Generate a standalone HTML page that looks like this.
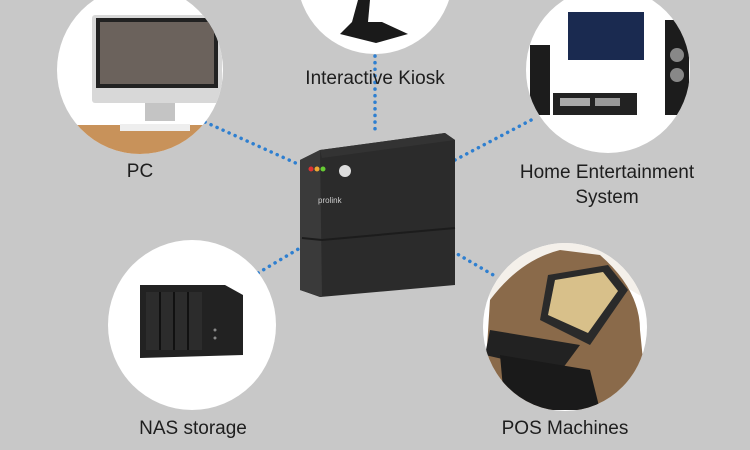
<!DOCTYPE html>
<html><head><meta charset="utf-8"><style>
html,body{margin:0;padding:0;width:750px;height:450px;overflow:hidden;background:#c8c8c8}
svg{display:block}
text{font-family:"Liberation Sans",sans-serif;fill:#1e1e1e;font-size:19px}
</style></head><body>
<svg width="750" height="450" viewBox="0 0 750 450">
<defs>
<clipPath id="c1"><ellipse cx="140" cy="70" rx="83" ry="84"/></clipPath>
<clipPath id="c2"><ellipse cx="375" cy="-25" rx="78" ry="79"/></clipPath>
<clipPath id="c3"><ellipse cx="608" cy="70" rx="82" ry="83"/></clipPath>
<clipPath id="c4"><ellipse cx="192" cy="325" rx="84" ry="85"/></clipPath>
<clipPath id="c5"><ellipse cx="565" cy="327" rx="82" ry="84"/></clipPath>
</defs>
<rect width="750" height="450" fill="#c8c8c8"/>
<g stroke="#2e7fd0" stroke-width="3.5" stroke-dasharray="0.1 6.5" stroke-linecap="round" fill="none">
<line x1="205" y1="122" x2="300" y2="165"/>
<line x1="375" y1="56" x2="375" y2="135"/>
<line x1="455" y1="160" x2="535" y2="118"/>
<line x1="258" y1="273" x2="300" y2="248"/>
<line x1="447" y1="248" x2="495" y2="276"/>
</g>
<g fill="#fff">
<ellipse cx="140" cy="70" rx="83" ry="84"/>
<ellipse cx="375" cy="-25" rx="78" ry="79"/>
<ellipse cx="608" cy="70" rx="82" ry="83"/>
<ellipse cx="192" cy="325" rx="84" ry="85"/>
<ellipse cx="565" cy="327" rx="82" ry="84"/>
</g>
<g clip-path="url(#c1)">
<rect x="92" y="15" width="130" height="88" rx="3" fill="#d8d8d8"/>
<rect x="96" y="18" width="122" height="70" fill="#222"/>
<rect x="100" y="22" width="114" height="62" fill="#6b625c"/>
<rect x="145" y="103" width="30" height="18" fill="#c4c4c4"/>
<path d="M55 125 L225 125 L225 160 L55 160Z" fill="#c8925a"/>
<rect x="120" y="124" width="70" height="7" fill="#eee"/>
</g>
<g clip-path="url(#c2)">
<path d="M358 0 L370 0 L368 22 L382 22 L408 34 L376 43 L340 34 L352 22Z" fill="#1a1a1a"/>
</g>
<g clip-path="url(#c3)">
<rect x="568" y="12" width="76" height="48" fill="#1a2a50"/>
<rect x="530" y="45" width="20" height="70" fill="#1c1c1c"/>
<rect x="665" y="20" width="24" height="95" fill="#1c1c1c"/>
<circle cx="677" cy="55" r="7" fill="#888"/><circle cx="677" cy="75" r="7" fill="#888"/>
<rect x="553" y="93" width="84" height="22" fill="#222"/>
<rect x="560" y="98" width="30" height="8" fill="#aaa"/><rect x="595" y="98" width="25" height="8" fill="#999"/>
</g>
<g clip-path="url(#c4)">
<path d="M140 285 L225 285 L243 295 L243 355 L140 358Z" fill="#222"/>
<rect x="146" y="292" width="56" height="58" fill="#2c2c2c"/>
<g stroke="#111" stroke-width="2"><line x1="160" y1="292" x2="160" y2="350"/><line x1="174" y1="292" x2="174" y2="350"/><line x1="188" y1="292" x2="188" y2="350"/></g>
<circle cx="215" cy="330" r="1.5" fill="#888"/><circle cx="215" cy="338" r="1.5" fill="#888"/>
</g>
<g clip-path="url(#c5)">
<path d="M483 243 L648 243 L648 300 L560 250 Q520 265 490 300Z" fill="#f4f0ea"/>
<path d="M490 300 Q520 260 560 250 L600 255 Q640 290 640 330 L648 410 L483 410Z" fill="#8a6a4a"/>
<path d="M548 275 L608 265 L628 290 L590 345 L540 320Z" fill="#2a2a2a"/>
<path d="M555 280 L603 272 L618 291 L588 333 L548 315Z" fill="#d8c08a"/>
<path d="M490 330 L580 345 L560 372 L485 355Z" fill="#222"/>
<path d="M500 355 L590 370 L600 410 L505 410Z" fill="#1a1a1a"/>
</g>
<path d="M300 160 L320 150 L445 133 L455 140 L455 285 L320 297 L300 290Z" fill="#2b2b2b"/>
<path d="M300 160 L320 150 L322 297 L300 290Z" fill="#3a3a3a"/>
<path d="M320 150 L445 133 L455 140 L322 158Z" fill="#333"/>
<path d="M302 238 L322 240 L455 228" stroke="#1c1c1c" stroke-width="2" fill="none"/>
<circle cx="311" cy="169" r="2.5" fill="#d33"/><circle cx="317" cy="169" r="2.5" fill="#ea3"/><circle cx="323" cy="169" r="2.5" fill="#6c3"/>
<circle cx="345" cy="171" r="6" fill="#ddd"/>
<text x="318" y="203" style="font-size:8px;fill:#ccc">prolink</text>
<text x="375" y="84" text-anchor="middle">Interactive Kiosk</text>
<text x="140" y="177" text-anchor="middle">PC</text>
<text x="607" y="178" text-anchor="middle">Home Entertainment</text>
<text x="607" y="203" text-anchor="middle">System</text>
<text x="193" y="434" text-anchor="middle">NAS storage</text>
<text x="565" y="434" text-anchor="middle">POS Machines</text>
</svg>
</body></html>
